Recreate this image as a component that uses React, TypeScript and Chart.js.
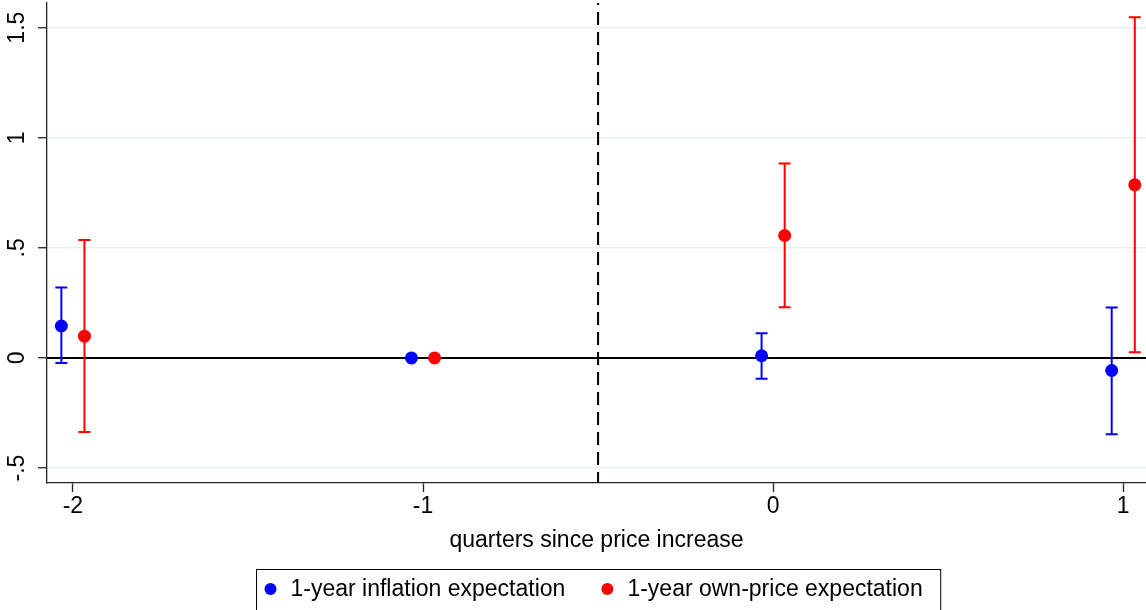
import React, { useEffect, useRef } from "react";
import { Chart, registerables } from "chart.js";

Chart.register(...registerables);

// Event-study estimates with 95% confidence intervals
const periods = [-2, -1, 0, 1];
const inflationMean = [0.145, 0, 0.01, -0.057];
const inflationLow = [-0.023, 0, -0.095, -0.347];
const inflationHigh = [0.32, 0, 0.112, 0.229];
const ownPriceMean = [0.099, 0, 0.556, 0.786];
const ownPriceLow = [-0.336, 0, 0.23, 0.026];
const ownPriceHigh = [0.536, 0, 0.883, 1.547];

const seriesLabels = ["1-year inflation expectation", "1-year own-price expectation"];
const seriesColors = ["#0000ff", "#ff0000"];
const xTicks = [-2, -1, 0, 1];
const yTicks = [-0.5, 0, 0.5, 1, 1.5];
const xTitle = "quarters since price increase";
const eventLine = -0.5;

const FONT = "'Liberation Sans', Arial, sans-serif";
const FONT_SIZE = 23;
const DODGE = 0.033;

// Stata-style number labels: ".5", "-.5", "1.5"
const fmt = (v: number) => {
  let s = String(v);
  s = s.replace(/^0\./, ".").replace(/^-0\./, "-.");
  return s;
};

const overlays = {
  id: "overlays",
  beforeDatasetsDraw(chart: any) {
    const { ctx, chartArea, scales } = chart;
    const x = scales.x;
    const y = scales.y;
    ctx.save();
    // reference line at zero
    const y0 = y.getPixelForValue(0);
    ctx.strokeStyle = "#000";
    ctx.lineWidth = 2;
    ctx.beginPath();
    ctx.moveTo(chartArea.left, y0);
    ctx.lineTo(chartArea.right, y0);
    ctx.stroke();
    // event marker
    const xd = x.getPixelForValue(eventLine);
    ctx.setLineDash([13, 7]);
    ctx.lineDashOffset = 11;
    ctx.beginPath();
    ctx.moveTo(xd, chartArea.top);
    ctx.lineTo(xd, chartArea.bottom);
    ctx.stroke();
    ctx.setLineDash([]);
    // confidence intervals
    chart.data.datasets.forEach((ds: any) => {
      ctx.strokeStyle = ds.backgroundColor;
      ctx.lineWidth = 2;
      ds.data.forEach((pt: any, i: number) => {
        const lo = ds.errLow[i];
        const hi = ds.errHigh[i];
        if (lo === hi) return;
        const px = x.getPixelForValue(pt.x);
        const pl = y.getPixelForValue(lo);
        const ph = y.getPixelForValue(hi);
        ctx.beginPath();
        ctx.moveTo(px, pl);
        ctx.lineTo(px, ph);
        ctx.moveTo(px - 6, pl);
        ctx.lineTo(px + 6, pl);
        ctx.moveTo(px - 6, ph);
        ctx.lineTo(px + 6, ph);
        ctx.stroke();
      });
    });
    ctx.restore();
  },
  afterDraw(chart: any) {
    const { ctx, chartArea, scales } = chart;
    const y = scales.y;
    ctx.save();
    ctx.fillStyle = "#000";
    ctx.font = `${FONT_SIZE}px ${FONT}`;
    // rotated y tick labels
    y.ticks.forEach((t: any) => {
      const py = y.getPixelForValue(t.value);
      ctx.save();
      ctx.translate(17.5, py);
      ctx.rotate(-Math.PI / 2);
      ctx.textAlign = "center";
      ctx.textBaseline = "middle";
      ctx.fillText(fmt(t.value), 0, 0);
      ctx.restore();
    });
    // boxed legend, centred under the plot region
    const w0 = ctx.measureText(seriesLabels[0]).width;
    const w1 = ctx.measureText(seriesLabels[1]).width;
    const gap = 42;
    const boxW = 14 + 20 + w0 + gap + 20 + w1 + 18;
    const cx = (chartArea.left + chartArea.right) / 2 + 1.5;
    const bx = Math.round(cx - boxW / 2) + 0.5;
    const by = 569.5;
    ctx.fillStyle = "#fff";
    ctx.fillRect(bx, by, boxW, 44);
    ctx.strokeStyle = "#000";
    ctx.lineWidth = 1;
    ctx.strokeRect(bx, by, boxW, 44);
    const cy = 589;
    const items = [
      { c: bx + 14, t: bx + 34, label: seriesLabels[0], color: seriesColors[0] },
      { c: bx + 34 + w0 + gap, t: bx + 34 + w0 + gap + 20, label: seriesLabels[1], color: seriesColors[1] },
    ];
    items.forEach((it) => {
      ctx.fillStyle = it.color;
      ctx.beginPath();
      ctx.arc(it.c, cy, 6, 0, Math.PI * 2);
      ctx.fill();
      ctx.fillStyle = "#000";
      ctx.textAlign = "left";
      ctx.textBaseline = "middle";
      ctx.fillText(it.label, it.t, cy + 1);
    });
    ctx.restore();
  },
};

export default function App() {
  const ref = useRef<HTMLCanvasElement>(null);

  useEffect(() => {
    if (!ref.current) return;
    const chart = new Chart(ref.current, {
      type: "scatter",
      data: {
        datasets: [
          {
            label: seriesLabels[0],
            data: periods.map((p, i) => ({ x: p - DODGE, y: inflationMean[i] })),
            errLow: inflationLow,
            errHigh: inflationHigh,
            backgroundColor: seriesColors[0],
            borderColor: seriesColors[0],
            pointRadius: 6.5,
            pointBorderWidth: 0,
          } as any,
          {
            label: seriesLabels[1],
            data: periods.map((p, i) => ({ x: p + DODGE, y: ownPriceMean[i] })),
            errLow: ownPriceLow,
            errHigh: ownPriceHigh,
            backgroundColor: seriesColors[1],
            borderColor: seriesColors[1],
            pointRadius: 6.5,
            pointBorderWidth: 0,
          } as any,
        ],
      },
      options: {
        responsive: false,
        animation: false,
        layout: { autoPadding: false, padding: { top: 3, left: 0, right: 0, bottom: 56 } },
        plugins: {
          legend: { display: false },
          tooltip: { enabled: false },
        },
        scales: {
          x: {
            type: "linear",
            min: -2.074,
            max: 1.065,
            afterBuildTicks: (s: any) => {
              s.ticks = xTicks.map((v) => ({ value: v }));
            },
            afterFit: (s: any) => {
              s.height = 71;
              s.paddingLeft = 0;
              s.paddingRight = 0;
            },
            grid: {
              drawOnChartArea: false,
              drawTicks: true,
              tickLength: 9,
              tickColor: "#222",
              tickWidth: 1.3,
            },
            border: { color: "#222", width: 1.3 },
            ticks: {
              color: "#000",
              padding: 1,
              maxRotation: 0,
              font: { family: FONT, size: FONT_SIZE },
              callback: (v: any) => fmt(Number(v)),
            },
            title: {
              display: true,
              text: xTitle,
              color: "#000",
              padding: { top: 0, bottom: 0 },
              font: { family: FONT, size: FONT_SIZE },
            },
          },
          y: {
            type: "linear",
            min: -0.568,
            max: 1.612,
            afterBuildTicks: (s: any) => {
              s.ticks = yTicks.map((v) => ({ value: v }));
            },
            afterFit: (s: any) => {
              s.width = 47;
              s.paddingTop = 0;
              s.paddingBottom = 0;
            },
            grid: {
              color: "#e6eff2",
              lineWidth: 1.5,
              drawTicks: true,
              tickLength: 9,
              tickColor: "#222",
              tickWidth: 1.3,
            },
            border: { color: "#222", width: 1.3 },
            ticks: { display: false },
          },
        },
      },
      plugins: [overlays],
    });
    return () => chart.destroy();
  }, []);

  return (
    <canvas
      ref={ref}
      width={1146}
      height={610}
      style={{ position: "absolute", left: 0, top: 0, display: "block" }}
    />
  );
}
